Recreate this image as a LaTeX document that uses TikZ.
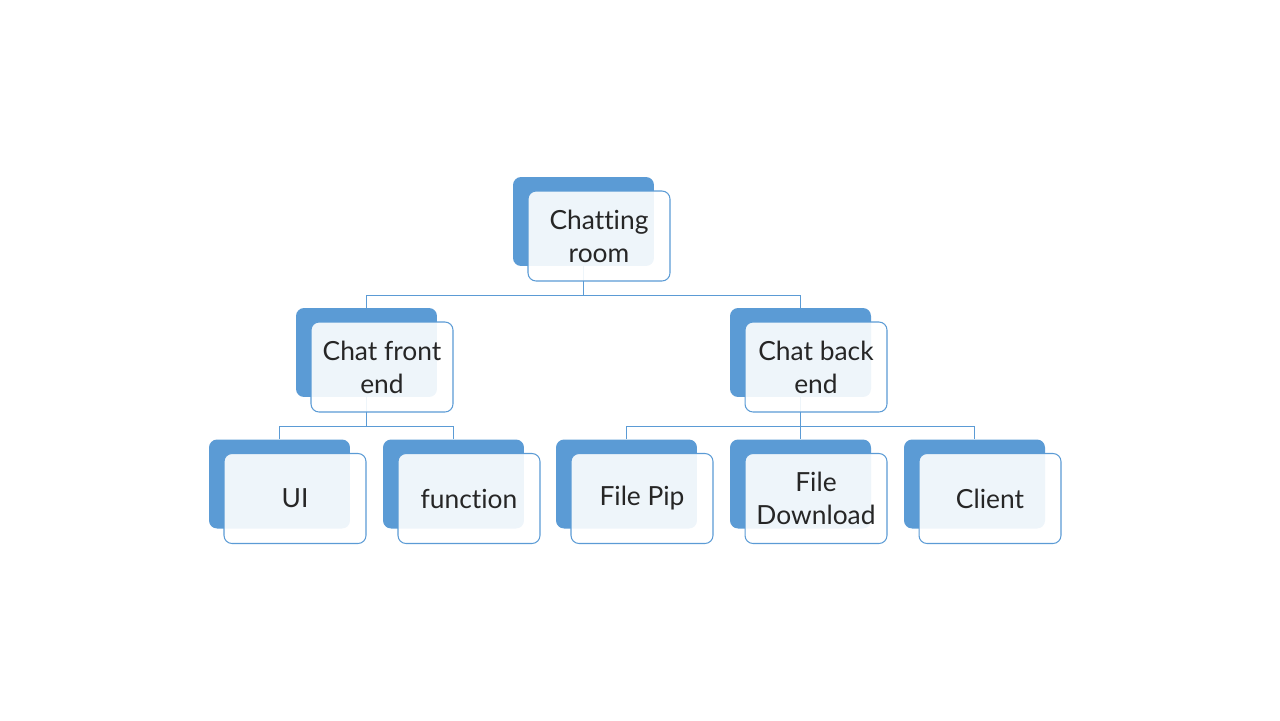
\documentclass[tikz,border=0pt]{standalone}
\usepackage{fontspec}
\setmainfont{Lato}[Ligatures=NoCommon]
\usetikzlibrary{calc}
\definecolor{boxblue}{HTML}{5B9BD5}
\tikzset{
  backbox/.style={fill=boxblue, rounded corners=0.16cm, minimum width=2.82cm, minimum height=1.78cm},
  frontbox/.style={draw=boxblue, line width=0.6pt, fill=white, fill opacity=0.9, text opacity=1,
    rounded corners=0.16cm, minimum width=2.84cm, minimum height=1.8cm, align=center,
    font=\fontsize{15}{18.7}\selectfont, text=black!85},
  link/.style={draw=boxblue, line width=0.6pt},
}
\begin{document}
\begin{tikzpicture}[x=0.02cm, y=-0.02cm]
    \useasboundingbox (0,0) rectangle (1280,720);

    % blue boxes behind
    \foreach \name/\x/\y in {root/583.5/221.5, fe/366.5/352.5, be/800.5/352.5,
        ui/279.5/484, fn/453.5/484, pip/626.5/484, dl/800.5/484, cl/974.5/484}
        \node[backbox] (\name-b) at (\x,\y) {};

    % tree links
    \draw[link] (root-b.south) -- ++(0,29) -| (fe-b.north);
    \draw[link] (root-b.south) -- ++(0,29) -| (be-b.north);
    \draw[link] (fe-b.south) -- ++(0,29) -| (ui-b.north);
    \draw[link] (fe-b.south) -- ++(0,29) -| (fn-b.north);
    \draw[link] (be-b.south) -- ++(0,29) -| (pip-b.north);
    \draw[link] (be-b.south) -- ++(0,29) -| (dl-b.north);
    \draw[link] (be-b.south) -- ++(0,29) -| (cl-b.north);

    % labelled boxes in front
    \foreach \name/\txt in {root/{Chatting\\room}, fe/{Chat front\\end}, be/{Chat back\\end},
        ui/UI, fn/function, pip/File Pip, dl/{File\\Download}, cl/Client}
        \node[frontbox] (\name) at ($(\name-b.center)+(15.5,14.5)$) {\txt};
\end{tikzpicture}
\end{document}
